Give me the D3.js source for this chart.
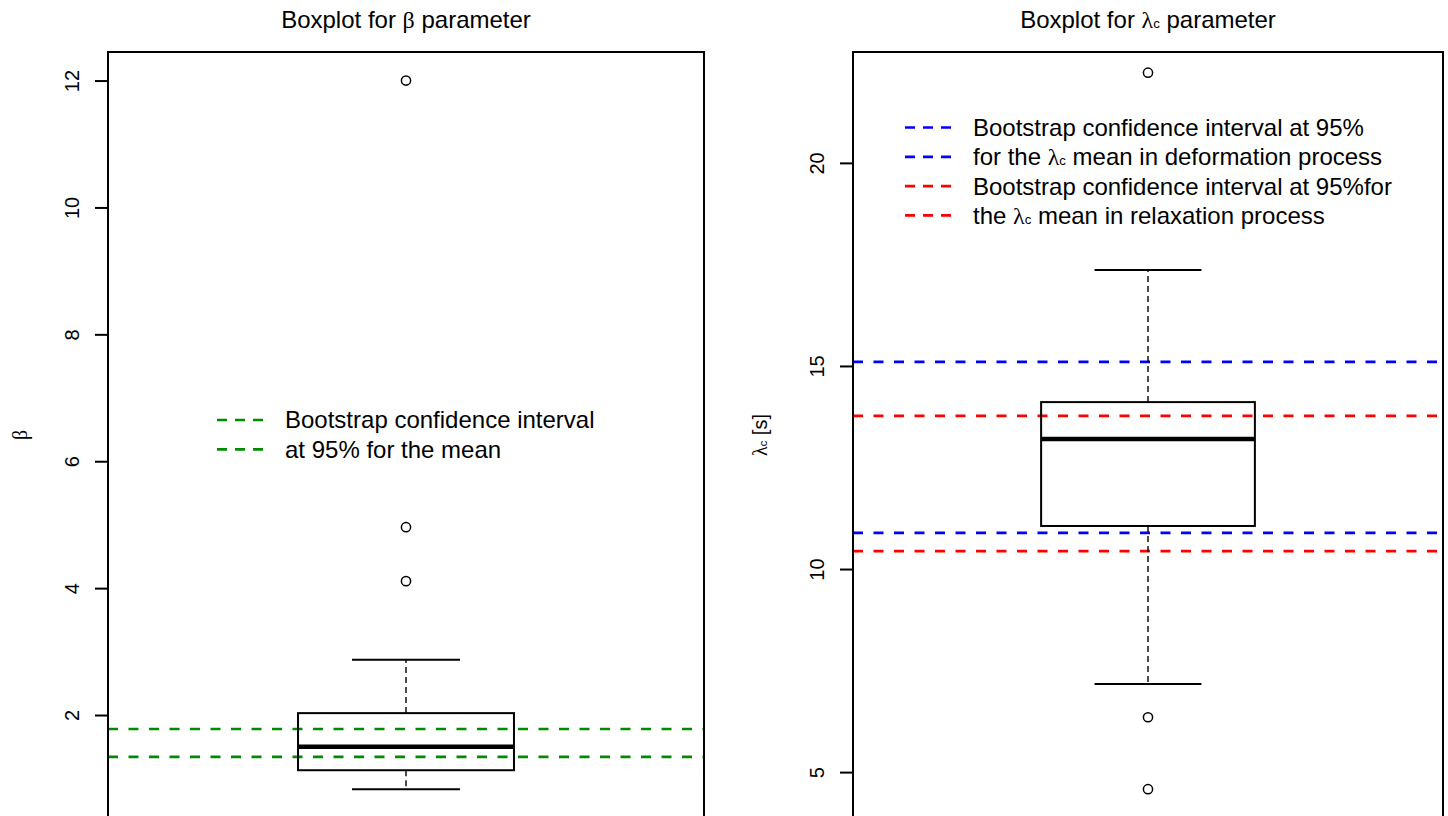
<!DOCTYPE html>
<html>
<head>
<meta charset="utf-8">
<script src="https://cdn.jsdelivr.net/npm/d3@7"></script>
<style>
  html, body { margin: 0; padding: 0; background: #fff; }
  svg { display: block; }
  text { font-family: "Liberation Sans", Arial, sans-serif; fill: #000; }
  .sym { font-family: "Liberation Serif", "Times New Roman", serif; }
</style>
</head>
<body>
<svg id="chart" width="1448" height="816"></svg>
<script>
// ---- β parameter ----
const betaCategory = ["β"];
const betaStats = [0.83, 1.13, 1.50, 2.03, 2.87];      // lower whisker, Q1, median, Q3, upper whisker
const betaOutliers = [4.11, 4.96, 12.0];
const betaCI = [1.34, 1.78];                           // bootstrap 95% CI for the mean
const betaTicks = [2, 4, 6, 8, 10, 12];
const betaDomain = [0.377, 12.45];

// ---- λc parameter ----
const lambdaCategory = ["λc"];
const lambdaStats = [7.17, 11.06, 13.20, 14.11, 17.36];
const lambdaOutliers = [4.58, 6.35, 22.22];
const lambdaCIDeformation = [10.89, 15.10];
const lambdaCIRelaxation = [10.44, 13.77];
const lambdaTicks = [5, 10, 15, 20];
const lambdaDomain = [3.87, 22.73];

const svg = d3.select("#chart");

function lambdaText(sel, before, after) {
  sel.append("tspan").text(before);
  sel.append("tspan").attr("class", "sym").text("λ");
  sel.append("tspan").attr("font-size", "0.55em").text("c");
  sel.append("tspan").text(after);
}

function panel(opt) {
  const g = svg.append("g");
  const y = d3.scaleLinear().domain(opt.domain).range([818, 52]);
  const x = d3.scaleBand().domain(opt.category).range([opt.left, opt.right]).paddingOuter(0.88);
  const cx = x(opt.category[0]) + x.bandwidth() / 2;
  const bw = x.bandwidth();
  const [lw, q1, med, q3, uw] = opt.stats;

  // reference lines (clipped to the plot region)
  const clipId = "clip" + opt.left;
  g.append("clipPath").attr("id", clipId).append("rect")
    .attr("x", opt.left).attr("y", 52).attr("width", opt.right - opt.left).attr("height", 766);
  const lines = g.append("g").attr("clip-path", `url(#${clipId})`);

  // whiskers
  g.append("line").attr("x1", cx).attr("x2", cx).attr("y1", y(q3)).attr("y2", y(uw))
    .attr("stroke", "#000").attr("stroke-width", 1.4).attr("stroke-dasharray", "6,4");
  g.append("line").attr("x1", cx).attr("x2", cx).attr("y1", y(q1)).attr("y2", y(lw))
    .attr("stroke", "#000").attr("stroke-width", 1.4).attr("stroke-dasharray", "6,4");
  [lw, uw].forEach(v => {
    g.append("line").attr("x1", cx - bw / 4).attr("x2", cx + bw / 4)
      .attr("y1", y(v)).attr("y2", y(v)).attr("stroke", "#000").attr("stroke-width", 2);
  });
  // box
  g.append("rect").attr("x", cx - bw / 2).attr("width", bw)
    .attr("y", y(q3)).attr("height", y(q1) - y(q3))
    .attr("fill", "none").attr("stroke", "#000").attr("stroke-width", 2);
  g.append("line").attr("x1", cx - bw / 2).attr("x2", cx + bw / 2)
    .attr("y1", y(med)).attr("y2", y(med)).attr("stroke", "#000").attr("stroke-width", 4.5);
  // outliers
  g.selectAll("circle.out").data(opt.outliers).join("circle").attr("class", "out")
    .attr("cx", cx).attr("cy", d => y(d)).attr("r", 4.6)
    .attr("fill", "none").attr("stroke", "#000").attr("stroke-width", 1.5);

  opt.refLines.forEach(r => {
    r.values.forEach(v => {
      lines.append("line").attr("x1", opt.left).attr("x2", opt.right)
        .attr("y1", y(v)).attr("y2", y(v))
        .attr("stroke", r.color).attr("stroke-width", 2.7).attr("stroke-dasharray", "10,10.5");
    });
  });

  // frame
  g.append("rect").attr("x", opt.left).attr("y", 52)
    .attr("width", opt.right - opt.left).attr("height", 766)
    .attr("fill", "none").attr("stroke", "#000").attr("stroke-width", 2);

  // y axis
  const ax = g.append("g").attr("transform", `translate(${opt.left},0)`)
    .call(d3.axisLeft(y).tickValues(opt.ticks).tickSize(13).tickFormat(d3.format("d")));
  ax.select(".domain").remove();
  ax.selectAll(".tick line").attr("stroke", "#000").attr("stroke-width", 2);
  ax.selectAll(".tick text")
    .attr("transform", "rotate(-90)")
    .attr("x", 0).attr("y", -36).attr("dy", "0.36em")
    .attr("text-anchor", "middle")
    .style("font-family", '"Liberation Sans", Arial, sans-serif')
    .style("font-size", "20px").attr("fill", "#000");

  // y label
  const yl = g.append("text")
    .attr("transform", `translate(${opt.left - opt.ylabelGap},435) rotate(-90)`)
    .attr("text-anchor", "middle").attr("dy", "0.35em").style("font-size", "20px");
  opt.ylabel(yl);

  // title
  const t = g.append("text").attr("x", (opt.left + opt.right) / 2).attr("y", 28)
    .attr("text-anchor", "middle").style("font-size", "24px");
  opt.title(t);

  // legend
  const lg = g.append("g");
  opt.legend.forEach((item, i) => {
    const yy = opt.legendY + i * 29.3;
    lg.append("line").attr("x1", opt.legendX).attr("x2", opt.legendX + 46)
      .attr("y1", yy).attr("y2", yy).attr("stroke", item.color)
      .attr("stroke-width", 2.7).attr("stroke-dasharray", "10,8");
    const tx = lg.append("text").attr("x", opt.legendX + 68).attr("y", yy)
      .attr("dy", "0.35em").style("font-size", "24px");
    item.label(tx);
  });
}

panel({
  left: 108, right: 704,
  category: betaCategory, domain: betaDomain, ticks: betaTicks,
  stats: betaStats, outliers: betaOutliers,
  refLines: [{ values: betaCI, color: "#008B00" }],
  ylabelGap: 88,
  ylabel: s => s.append("tspan").attr("class", "sym").text("β"),
  title: s => { s.append("tspan").text("Boxplot for "); s.append("tspan").attr("class", "sym").text("β"); s.append("tspan").text(" parameter"); },
  legendX: 217, legendY: 420,
  legend: [
    { color: "#008B00", label: s => s.text("Bootstrap confidence interval") },
    { color: "#008B00", label: s => s.text("at 95% for the mean") }
  ]
});

panel({
  left: 853, right: 1443,
  category: lambdaCategory, domain: lambdaDomain, ticks: lambdaTicks,
  stats: lambdaStats, outliers: lambdaOutliers,
  refLines: [
    { values: lambdaCIDeformation, color: "#0000FF" },
    { values: lambdaCIRelaxation, color: "#FF0000" }
  ],
  ylabelGap: 93,
  ylabel: s => lambdaText(s, "", " [s]"),
  title: s => lambdaText(s, "Boxplot for ", " parameter"),
  legendX: 905, legendY: 127.5,
  legend: [
    { color: "#0000FF", label: s => s.text("Bootstrap confidence interval at 95%") },
    { color: "#0000FF", label: s => lambdaText(s, "for the ", " mean in deformation process") },
    { color: "#FF0000", label: s => s.text("Bootstrap confidence interval at 95%for") },
    { color: "#FF0000", label: s => lambdaText(s, "the ", " mean in relaxation process") }
  ]
});
</script>
</body>
</html>
